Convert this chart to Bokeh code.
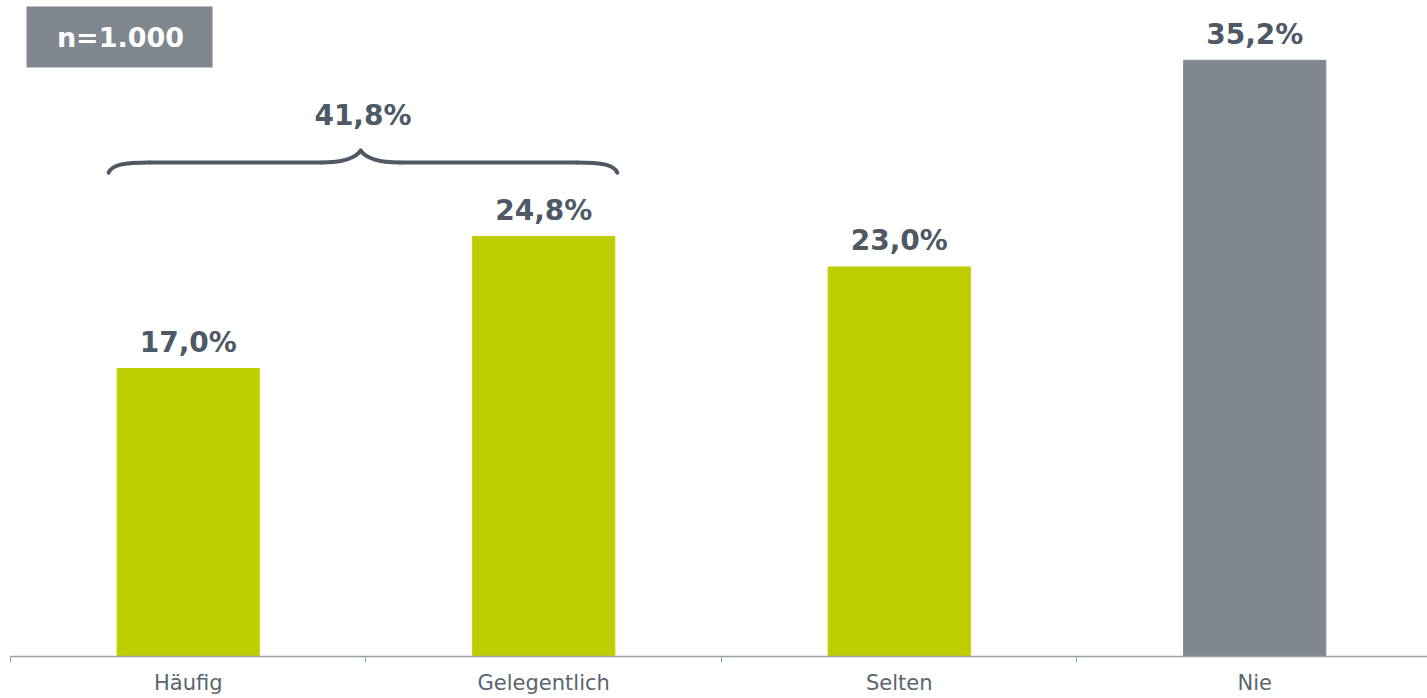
from bokeh.plotting import figure
from bokeh.models import Range1d, FixedTicker, Label, ColumnDataSource, BoxAnnotation
from bokeh.core.properties import value
from bokeh.embed import file_html
from bokeh.resources import INLINE

# ---- data ----
categories = ["Häufig", "Gelegentlich", "Selten", "Nie"]
values = [17.0, 24.8, 23.0, 35.2]
bar_colors = ["#bfce00", "#bfce00", "#bfce00", "#80878f"]
group_total = 41.8          # Häufig + Gelegentlich
sample_label = "n=1.000"

FONT = "DejaVu Sans"
TXT = "#4e5965"

xs = [i + 0.5 for i in range(len(categories))]
labels = [f"{v:.1f}".replace(".", ",") + "%" for v in values]

src = ColumnDataSource(dict(x=xs, top=values, color=bar_colors, label=labels))

p = figure(width=1427, height=698, output_backend="svg", toolbar_location=None,
           x_range=Range1d(0, 3.986), y_range=Range1d(0, 38.73),
           min_border_left=10, min_border_right=0, min_border_top=0, min_border_bottom=42)
p.outline_line_color = None
p.grid.visible = False
p.yaxis.visible = False
p.background_fill_color = "white"

p.vbar(x="x", top="top", width=0.4, bottom=0, color="color", source=src)
p.text(x="x", y="top", text="label", source=src, text_align="center",
       text_baseline="alphabetic", y_offset=-26, text_color=TXT,
       text_font=value(FONT), text_font_style="bold", text_font_size="28px")

# x axis: labels at category centres, ticks at boundaries
ax = p.xaxis[0]
ax.ticker = FixedTicker(ticks=xs, minor_ticks=[0, 1, 2, 3, 4])
ax.major_label_overrides = {x: c for x, c in zip(xs, categories)}
ax.major_tick_line_color = None
ax.major_tick_out = 0
ax.major_tick_in = 0
ax.minor_tick_in = 0
ax.minor_tick_out = 6
ax.minor_tick_line_color = "#9aa0a6"
ax.axis_line_color = "#9aa0a6"
ax.axis_line_width = 1.5
ax.major_label_standoff = 8
ax.major_label_text_font = FONT
ax.major_label_text_font_size = "21px"
ax.major_label_text_color = "#5a6570"

# brace over first two categories
left = xs[0] - 0.224
right = xs[1] + 0.207
mid = (xs[0] + xs[1]) / 2 - 0.015
y_end = max(values[:2]) + 3.77
y_flat = max(values[:2]) + 4.37
y_peak = max(values[:2]) + 5.07
hook = 0.115
cw = 0.11
BR = dict(line_color=TXT, line_width=4, line_cap="round")
p.bezier(x0=[left, right], y0=[y_end, y_end], x1=[left + hook, right - hook],
         y1=[y_flat, y_flat], cx0=[left + 0.01, right - 0.01], cy0=[y_flat - 0.15, y_flat - 0.15],
         cx1=[left + 0.04, right - 0.04], cy1=[y_flat, y_flat], **BR)
p.segment(x0=[left + hook, mid + cw], y0=[y_flat, y_flat],
          x1=[mid - cw, right - hook], y1=[y_flat, y_flat], **BR)
p.bezier(x0=[mid - cw, mid + cw], y0=[y_flat, y_flat], x1=[mid, mid], y1=[y_peak, y_peak],
         cx0=[mid - 0.05, mid + 0.05], cy0=[y_flat, y_flat],
         cx1=[mid - 0.015, mid + 0.015], cy1=[y_flat + 0.25, y_flat + 0.25], **BR)
p.text(x=[(left + right) / 2], y=[y_peak], text=[f"{group_total:.1f}".replace(".", ",") + "%"],
       text_align="center", text_baseline="alphabetic", y_offset=-35, text_color=TXT,
       text_font=value(FONT), text_font_style="bold", text_font_size="28px")

# sample size box
p.add_layout(BoxAnnotation(left=16, right=202, top=650, bottom=589,
                           left_units="screen", right_units="screen",
                           top_units="screen", bottom_units="screen",
                           fill_color="#80878f", fill_alpha=1, line_color=None, level="overlay"))
p.add_layout(Label(x=110, y=619, x_units="screen", y_units="screen", text=sample_label,
                   text_font=FONT, text_font_style="bold", text_font_size="27px",
                   text_color="white", text_align="center", text_baseline="middle",
                   level="overlay"))

open("out.html", "w").write(file_html(p, INLINE))
